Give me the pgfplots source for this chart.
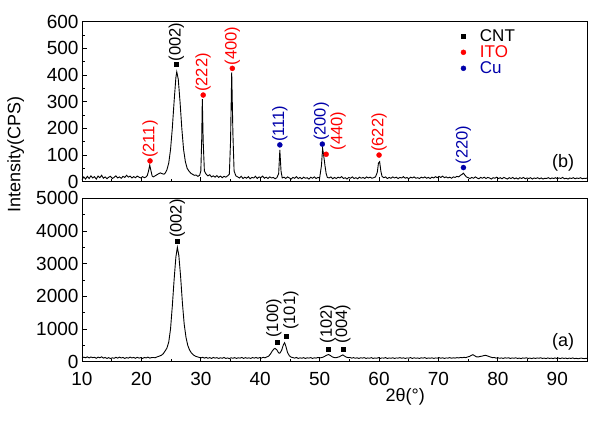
\documentclass[border=0pt]{standalone}
\usepackage{fontspec}
\setmainfont{Liberation Sans}
\usepackage{pgfplots}
\pgfplotsset{compat=1.18}
\definecolor{itored}{RGB}{255,0,0}
\definecolor{cublue}{RGB}{0,0,170}
\tikzset{plbl/.style={rotate=90, anchor=west, inner sep=1pt, font=\fontsize{16.5}{17}\selectfont}}
\begin{document}
\begin{tikzpicture}
\path[use as bounding box] (0pt,0pt) rectangle (600pt,-423pt);
\pgfplotsset{
  xrdaxis/.style={
    scale only axis, width=505pt, xmin=10, xmax=95,
    xtick={10,20,...,90}, minor x tick num=1,
    tick align=inside, xtick pos=bottom, ytick pos=left,
    major tick length=5pt, minor tick length=3pt,
    every tick/.style={black, line width=0.8pt},
    axis line style={line width=0.9pt},
    /pgf/number format/assume math mode=true,
    /pgf/number format/1000 sep={},
    scaled y ticks=false,
    tick label style={font=\fontsize{19}{21}\selectfont},
    xticklabel style={inner ysep=0pt, yshift=-10.5pt},
    yticklabel style={inner ysep=0pt},
    label style={font=\fontsize{18}{20}\selectfont},
    clip=false,
  },
}
% ---------------- top panel (b)
\begin{axis}[xrdaxis,
  at={(82pt,-181.7pt)}, anchor=south west, height=160pt,
  ymin=0, ymax=600, ytick={0,100,...,600}, minor y tick num=1,
  xticklabels={},
  ylabel={Intensity(CPS)},
  ylabel style={at={(axis description cs:-0.131,0.167)}, anchor=center},
  legend style={draw=none, fill=none, inner sep=0pt, at={(axis cs:73.75,576)}, anchor=north west,
    font=\fontsize{17}{17}\selectfont,
    nodes={inner sep=1pt, text height=12pt, text depth=2pt}, row sep=0pt, column sep=13pt},
  legend cell align=left,
  legend image code/.code={\draw[mark repeat=2,mark phase=2] plot coordinates {(0pt,0pt)(4pt,0pt)(8pt,0pt)};},
]
\addplot[black, line width=0.9pt, forget plot] coordinates {
(10.0,8)(10.3,18)(10.6,10)(10.9,20)(11.2,12)(11.5,22)(11.8,14)(12.1,19)(12.4,10)(12.7,21)
(13.0,15)(13.3,24)(13.6,13)(13.9,18)(14.2,11)(14.5,17)(14.8,20)(15.1,12)(15.4,16)(15.7,22)
(16.0,14)(16.3,18)(16.6,13)(16.9,20)(17.2,16)(17.5,24)(17.8,17)(18.1,21)(18.4,14)(18.7,19)
(19.0,15)(19.3,21)(19.6,17)(19.9,14)(20.2,19)(20.5,15)(20.8,18)(21.0,24)(21.2,40)(21.4,62)
(21.6,42)(21.8,22)(22.0,18)(22.3,22)(22.6,26)(22.9,30)(23.2,33)(23.5,30)(23.8,28)(24.0,32)
(24.3,45)(24.6,70)(24.9,120)(25.2,200)(25.5,300)(25.8,390)(25.95,412)(26.2,385)(26.5,300)(26.8,200)
(27.1,120)(27.4,75)(27.7,50)(28.0,40)(28.3,32)(28.6,28)(28.9,24)(29.2,25)(29.5,20)(29.8,24)
(30.0,40)(30.15,160)(30.25,310)(30.4,150)(30.6,40)(30.9,28)(31.2,22)(31.5,26)(31.8,18)(32.1,22)
(32.4,17)(32.7,23)(33.0,16)(33.3,21)(33.6,15)(33.9,20)(34.2,17)(34.5,22)(34.8,28)(35.0,150)
(35.2,410)(35.4,180)(35.6,40)(35.9,22)(36.2,18)(36.5,14)(36.8,20)(37.1,12)(37.4,17)(37.7,13)
(38.0,19)(38.3,11)(38.6,16)(38.9,14)(39.2,20)(39.5,12)(39.8,18)(40.1,15)(40.4,21)(40.7,13)
(41.0,17)(41.3,12)(41.6,18)(41.9,14)(42.2,16)(42.5,11)(42.8,15)(43.1,30)(43.3,119)(43.5,40)
(43.7,14)(44.0,17)(44.3,12)(44.6,18)(44.9,14)(45.2,10)(45.5,16)(45.8,13)(46.1,19)(46.4,12)
(46.7,16)(47.0,11)(47.3,17)(47.6,13)(47.9,15)(48.2,10)(48.5,17)(48.8,13)(49.1,18)(49.4,12)
(49.7,16)(50.0,14)(50.3,60)(50.5,125)(50.7,95)(50.9,60)(51.1,30)(51.3,16)(51.6,14)(51.9,18)
(52.2,11)(52.5,16)(52.8,12)(53.1,17)(53.4,14)(53.7,19)(54.0,12)(54.3,15)(54.6,10)(54.9,16)
(55.2,13)(55.5,18)(55.8,12)(56.1,15)(56.4,11)(56.7,17)(57.0,13)(57.3,16)(57.6,12)(57.9,18)
(58.2,14)(58.5,17)(58.8,13)(59.1,15)(59.4,18)(59.7,35)(59.9,70)(60.1,75)(60.3,40)(60.5,20)
(60.8,15)(61.1,18)(61.4,12)(61.7,16)(62.0,13)(62.3,18)(62.6,14)(62.9,17)(63.2,12)(63.5,16)
(63.8,14)(64.1,19)(64.4,13)(64.7,16)(65.0,11)(65.3,17)(65.6,14)(65.9,18)(66.2,13)(66.5,15)
(66.8,12)(67.1,17)(67.4,14)(67.7,18)(68.0,13)(68.3,16)(68.6,12)(68.9,17)(69.2,14)(69.5,19)
(69.8,15)(70.1,20)(70.4,16)(70.7,21)(71.0,15)(71.3,18)(71.6,14)(71.9,17)(72.2,13)(72.5,18)
(72.8,16)(73.1,20)(73.4,18)(73.7,24)(74.0,28)(74.2,32)(74.4,26)(74.7,18)(75.0,15)(75.3,12)
(75.6,16)(75.9,13)(76.2,18)(76.5,14)(76.8,11)(77.1,16)(77.4,13)(77.7,17)(78.0,12)(78.3,16)
(78.6,14)(78.9,10)(79.2,15)(79.5,13)(79.8,17)(80.1,12)(80.4,15)(80.7,11)(81.0,16)(81.3,13)
(81.6,10)(81.9,15)(82.2,12)(82.5,16)(82.8,11)(83.1,14)(83.4,10)(83.7,15)(84.0,12)(84.3,16)
(84.6,11)(84.9,14)(85.2,12)(85.5,15)(85.8,10)(86.1,14)(86.4,12)(86.7,15)(87.0,11)(87.3,14)
(87.6,10)(87.9,13)(88.2,12)(88.5,15)(88.8,11)(89.1,14)(89.4,12)(89.7,15)(90.0,11)(90.3,14)
(90.6,12)(90.9,16)(91.2,11)(91.5,13)(91.8,10)(92.1,14)(92.4,12)(92.7,15)(93.0,11)(93.3,14)
(93.6,12)(93.9,15)(94.2,11)(94.5,13)(94.8,12)(95.0,14)
};
\addplot[only marks, mark=square*, mark size=2pt, black] coordinates {(25.9,440)};
\addlegendentry{CNT}
\addplot[only marks, mark=*, mark size=2.5pt, itored, mark options={draw=itored, fill=itored}] coordinates {(21.45,78)(30.4,325)(35.3,425)(51.1,103)(60.0,100)};
\addlegendentry{\textcolor{itored}{ITO}}
\addplot[only marks, mark=*, mark size=2.5pt, cublue, mark options={draw=cublue, fill=cublue}] coordinates {(43.3,138)(50.45,141)(74.2,53)};
\addlegendentry{\textcolor{cublue}{Cu}}
\node[yshift=2pt, plbl, black] at (axis cs:25.9,440) {(002)};
\node[yshift=2pt, plbl, itored] at (axis cs:21.45,78) {(211)};
\node[yshift=2pt, plbl, itored] at (axis cs:30.4,325) {(222)};
\node[yshift=2pt, plbl, itored] at (axis cs:35.3,425) {(400)};
\node[xshift=12pt, yshift=3pt, plbl, itored] at (axis cs:51.1,103) {(440)};
\node[yshift=2pt, plbl, itored] at (axis cs:60.0,100) {(622)};
\node[yshift=2pt, plbl, cublue] at (axis cs:43.3,138) {(111)};
\node[xshift=-1pt, yshift=2pt, plbl, cublue] at (axis cs:50.45,141) {(200)};
\node[yshift=2pt, plbl, cublue] at (axis cs:74.2,53) {(220)};
\node[font=\fontsize{18}{18}\selectfont] at (axis cs:91.0,70) {(b)};
\end{axis}
% ---------------- bottom panel (a)
\begin{axis}[xrdaxis,
  at={(82pt,-361.7pt)}, anchor=south west, height=163.4pt,
  ymin=0, ymax=5000, ytick={0,1000,...,5000}, minor y tick num=1,
  xlabel={2θ(°)},
  xlabel style={at={(axis description cs:0.64,-0.214)}, anchor=center},
]
\addplot[black, line width=0.9pt] coordinates {
(10.0,110)(10.3,140)(10.6,120)(10.9,150)(11.2,115)(11.5,145)(11.8,125)(12.1,135)(12.4,105)(12.7,140)
(13.0,120)(13.3,150)(13.6,110)(13.9,130)(14.2,100)(14.5,125)(14.8,95)(15.1,120)(15.4,105)(15.7,135)
(16.0,110)(16.3,140)(16.6,115)(16.9,130)(17.2,100)(17.5,125)(17.8,110)(18.1,140)(18.4,115)(18.7,130)
(19.0,105)(19.3,135)(19.6,110)(19.9,125)(20.2,100)(20.5,130)(20.8,115)(21.1,140)(21.4,110)(21.7,125)
(22.0,130)(22.3,120)(22.6,145)(23.0,170)(23.4,200)(23.7,250)(24.0,330)(24.3,420)(24.6,600)(24.9,1000)
(25.2,1700)(25.5,2500)(25.8,3200)(26.05,3500)(26.3,3250)(26.6,2600)(26.9,1800)(27.2,1150)(27.5,750)(27.8,500)
(28.1,360)(28.4,270)(28.8,200)(29.2,160)(29.6,140)(30.0,115)(30.3,135)(30.6,110)(30.9,130)(31.2,105)
(31.5,125)(31.8,100)(32.1,130)(32.4,110)(32.7,125)(33.0,100)(33.3,120)(33.6,105)(33.9,130)(34.2,100)
(34.5,115)(34.8,95)(35.1,120)(35.4,105)(35.7,125)(36.0,100)(36.3,120)(36.6,110)(36.9,130)(37.2,100)
(37.5,125)(37.8,105)(38.1,120)(38.4,100)(38.7,125)(39.0,110)(39.3,130)(39.6,105)(39.9,125)(40.2,110)
(40.5,135)(40.8,120)(41.1,145)(41.4,170)(41.7,230)(42.0,320)(42.3,390)(42.5,410)(42.8,360)(43.1,270)
(43.3,260)(43.6,350)(43.9,520)(44.1,580)(44.3,480)(44.6,280)(44.9,180)(45.2,140)(45.5,125)(45.8,110)
(46.1,130)(46.4,100)(46.7,120)(47.0,105)(47.3,125)(47.6,100)(47.9,120)(48.2,110)(48.5,125)(48.8,100)
(49.1,120)(49.4,110)(49.7,130)(50.0,115)(50.3,125)(50.6,140)(50.9,170)(51.2,200)(51.5,220)(51.8,190)
(52.1,150)(52.4,130)(52.7,120)(53.0,135)(53.3,150)(53.6,180)(53.9,210)(54.2,170)(54.5,140)(54.8,125)
(55.1,130)(55.4,110)(55.7,125)(56.0,105)(56.3,120)(56.6,100)(56.9,120)(57.2,110)(57.5,125)(57.8,100)
(58.1,115)(58.4,105)(58.7,125)(59.0,100)(59.3,115)(59.6,105)(59.9,125)(60.2,100)(60.5,115)(60.8,110)
(61.1,125)(61.4,100)(61.7,115)(62.0,105)(62.3,120)(62.6,100)(62.9,115)(63.2,110)(63.5,125)(63.8,105)
(64.1,120)(64.4,100)(64.7,115)(65.0,110)(65.3,125)(65.6,100)(65.9,120)(66.2,105)(66.5,115)(66.8,100)
(67.1,120)(67.4,110)(67.7,125)(68.0,100)(68.3,115)(68.6,105)(68.9,120)(69.2,100)(69.5,115)(69.8,110)
(70.1,125)(70.4,105)(70.7,120)(71.0,100)(71.3,115)(71.6,110)(71.9,125)(72.2,105)(72.5,120)(72.8,110)
(73.1,125)(73.4,115)(73.7,130)(74.0,120)(74.3,135)(74.6,125)(74.9,145)(75.2,160)(75.5,190)(75.8,215)
(76.1,180)(76.4,150)(76.7,145)(77.0,160)(77.3,170)(77.6,185)(77.9,195)(78.2,180)(78.5,160)(78.8,140)
(79.1,125)(79.4,130)(79.7,110)(80.0,120)(80.3,105)(80.6,115)(80.9,100)(81.2,120)(81.5,110)(81.8,120)
(82.1,100)(82.4,115)(82.7,105)(83.0,120)(83.3,100)(83.6,110)(83.9,95)(84.2,115)(84.5,105)(84.8,120)
(85.1,100)(85.4,110)(85.7,95)(86.0,115)(86.3,100)(86.6,115)(86.9,105)(87.2,120)(87.5,100)(87.8,110)
(88.1,95)(88.4,115)(88.7,100)(89.0,110)(89.3,95)(89.6,115)(89.9,100)(90.2,110)(90.5,95)(90.8,115)
(91.1,100)(91.4,110)(91.7,95)(92.0,110)(92.3,100)(92.6,115)(92.9,95)(93.2,105)(93.5,90)(94.0,110)
(94.5,95)(95.0,105)
};
\addplot[only marks, mark=square*, mark size=2pt, black] coordinates {(26.05,3690)(42.8,612)(44.3,786)(51.5,380)(53.9,380)};
\node[yshift=2pt, plbl, black] at (axis cs:26.05,3690) {(002)};
\node[xshift=-3pt, yshift=3pt, plbl, black] at (axis cs:42.8,612) {(100)};
\node[xshift=5pt, yshift=5pt, plbl, black] at (axis cs:44.3,786) {(101)};
\node[xshift=-1pt, yshift=5pt, plbl, black] at (axis cs:51.5,380) {(102)};
\node[yshift=5pt, plbl, black] at (axis cs:53.9,380) {(004)};
\node[font=\fontsize{18}{18}\selectfont] at (axis cs:91.0,612) {(a)};
\end{axis}
\end{tikzpicture}
\end{document}
